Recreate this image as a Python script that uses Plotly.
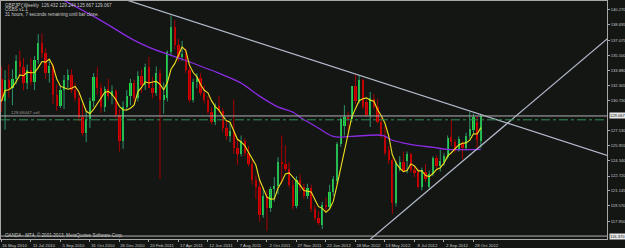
import plotly.graph_objects as go
import pandas as pd

# ---------------- data ----------------
date_labels = ["16 May 2010", "11 Jul 2010", "5 Sep 2010", "31 Oct 2010", "26 Dec 2010",
               "20 Feb 2011", "17 Apr 2011", "12 Jun 2011", "7 Aug 2011", "2 Oct 2011",
               "27 Nov 2011", "22 Jan 2012", "18 Mar 2012", "13 May 2012", "8 Jul 2012",
               "2 Sep 2012", "28 Oct 2012"]
date_label_bars = [0, 8, 16, 24, 32, 40, 48, 56, 64, 72, 80, 88, 96, 104, 112, 120, 128]

price_ticks = [140.270, 138.695, 137.075, 135.500, 133.880, 132.305, 130.730,
               127.530, 125.955, 124.340, 122.720, 121.145, 119.570, 117.950]

opens = [133.0, 130.6, 132.9, 132.0, 133.0, 134.9, 134.2, 132.5, 133.9, 132.7,
         135.0, 136.8, 135.7, 133.6, 134.3, 131.3, 130.1, 131.8, 132.9, 133.4,
         131.8, 131.0, 129.0, 127.3, 128.7, 130.6, 133.2, 132.0, 130.0, 131.9,
         131.2, 131.7, 129.2, 126.4, 130.0, 131.2, 132.6, 131.0, 133.3, 132.3,
         134.2, 132.0, 131.5, 133.6, 130.8, 131.0, 135.8, 138.5, 136.6, 135.3,
         135.6, 133.9, 130.8, 132.7, 133.1, 131.5, 130.8, 129.5, 128.4, 130.1,
         129.6, 127.8, 127.0, 127.5, 125.7, 125.0, 126.4, 125.1, 124.0, 122.3,
         121.6, 118.6, 120.6, 119.3, 121.3, 121.7, 124.2, 124.0, 123.5, 121.8,
         119.6, 122.3, 121.6, 120.6, 121.5, 119.2, 118.3, 117.5, 119.7, 119.4,
         121.0, 122.2, 126.1, 128.0, 129.0, 128.7, 132.2, 130.6, 132.9, 130.5,
         129.2, 130.9, 130.0, 128.4, 127.0, 125.5, 124.4, 119.9, 123.4, 124.2,
         124.3, 125.0, 123.4, 123.1, 121.6, 123.1, 121.6, 122.9, 124.6, 123.8,
         124.2, 124.7, 126.8, 126.3, 125.6, 126.2, 125.7, 126.9, 127.6, 128.4,
         126.432]
highs = [134.3, 133.9, 134.5, 134.0, 135.5, 136.0, 135.2, 134.5, 135.2, 135.4,
         137.7, 137.8, 136.2, 135.0, 134.6, 132.4, 132.3, 133.4, 134.0, 134.0,
         132.6, 131.5, 130.3, 129.6, 131.0, 133.6, 134.2, 132.5, 132.2, 133.0,
         132.3, 131.9, 129.8, 130.6, 131.8, 133.0, 132.9, 133.8, 134.0, 134.6,
         135.3, 133.2, 134.3, 134.0, 132.6, 136.0, 139.7, 139.2, 137.2, 137.0,
         136.2, 134.3, 133.0, 133.6, 133.6, 132.3, 131.2, 130.0, 130.4, 131.2,
         129.9, 128.6, 128.4, 130.8, 126.7, 127.0, 126.7, 125.9, 124.5, 122.8,
         122.2, 121.5, 121.2, 121.6, 122.6, 124.7, 127.0, 126.0, 124.2, 122.3,
         122.7, 122.9, 121.9, 121.9, 121.8, 119.6, 119.0, 120.0, 120.4, 121.8,
         122.7, 126.3, 128.9, 130.2, 129.5, 132.2, 133.4, 133.4, 133.0, 130.8,
         131.6, 131.4, 130.9, 129.0, 128.0, 125.9, 124.6, 124.3, 124.8, 125.3,
         125.3, 125.2, 123.8, 123.5, 123.6, 124.0, 123.3, 124.8, 124.9, 125.5,
         125.1, 127.0, 128.7, 126.6, 126.9, 126.4, 127.3, 129.5, 129.3, 129.0,
         129.244]
lows = [129.5, 127.6, 131.0, 130.2, 132.4, 133.3, 131.8, 131.9, 132.3, 131.8,
        134.6, 135.2, 133.0, 132.6, 130.3, 129.6, 129.9, 129.8, 132.0, 131.5,
        130.6, 128.5, 127.0, 126.3, 127.8, 130.0, 131.3, 129.4, 129.5, 130.8,
        130.3, 128.8, 125.3, 125.6, 129.6, 130.2, 130.5, 130.6, 131.5, 131.8,
        132.0, 130.9, 131.2, 122.4, 129.3, 130.6, 135.4, 136.1, 134.8, 134.9,
        133.6, 130.5, 130.5, 132.0, 131.2, 130.4, 129.3, 128.2, 128.1, 129.4,
        127.4, 126.5, 126.3, 125.1, 123.9, 124.8, 124.8, 123.7, 121.8, 120.3,
        117.9, 118.3, 116.9, 118.9, 120.0, 120.8, 121.9, 123.2, 121.5, 119.2,
        119.3, 121.1, 120.3, 120.3, 118.9, 118.0, 117.5, 117.1, 118.9, 119.2,
        120.6, 121.9, 125.8, 127.0, 127.5, 128.4, 130.3, 130.4, 129.8, 129.0,
        127.9, 129.8, 128.3, 126.7, 124.9, 124.0, 118.7, 119.5, 123.2, 123.1,
        123.0, 123.1, 122.6, 121.4, 121.2, 122.1, 121.4, 122.7, 123.5, 123.2,
        123.8, 124.5, 125.9, 125.2, 125.3, 124.5, 125.4, 126.6, 127.2, 125.7,
        125.667]
closes = [130.6, 132.9, 132.0, 133.0, 134.9, 134.2, 132.5, 133.9, 132.7, 135.0,
          136.8, 135.7, 133.6, 134.3, 131.3, 130.1, 131.8, 132.9, 133.4, 131.8,
          131.0, 129.0, 127.3, 128.7, 130.6, 133.2, 132.0, 130.0, 131.9, 131.2,
          131.7, 129.2, 126.4, 130.0, 131.2, 132.6, 131.0, 133.3, 132.3, 134.2,
          132.0, 131.5, 133.6, 130.8, 131.3, 135.8, 138.5, 136.6, 135.3, 135.6,
          133.9, 130.8, 132.7, 133.1, 131.5, 130.8, 129.5, 128.4, 130.1, 129.6,
          127.8, 127.0, 127.5, 125.7, 125.0, 126.4, 125.1, 124.0, 122.3, 121.6,
          118.6, 120.6, 119.3, 121.3, 121.7, 124.2, 124.0, 123.5, 121.8, 119.6,
          122.3, 121.6, 120.6, 121.5, 119.2, 118.3, 117.8, 119.7, 119.4, 121.0,
          122.4, 126.1, 128.7, 129.0, 128.7, 132.2, 130.6, 132.9, 130.0, 129.2,
          131.0, 130.0, 128.4, 126.9, 125.2, 124.4, 119.9, 124.1, 124.2, 123.3,
          125.0, 123.4, 123.0, 121.6, 123.4, 122.4, 122.9, 124.6, 123.8, 124.3,
          124.8, 126.7, 126.3, 125.6, 126.6, 125.7, 126.9, 127.7, 129.0, 126.5,
          129.067]

# long moving average (purple), read at sampled bars
purple_bars = [16.8, 26.7, 35.8, 40.4, 49.4, 58.6, 64.8, 70.2, 74.8, 79.2, 81.1,
               85.7, 90.0, 94.6, 103.6, 105.5, 110.9, 117.2, 121.0, 130.0]
purple_vals = [141.32, 139.22, 137.11, 136.27, 135.01, 133.64, 132.59, 131.11, 130.06,
               129.43, 128.9, 127.85, 126.9, 126.9, 127.0, 126.58, 126.06, 125.74,
               125.53, 125.53]

# trend lines (bar index, price)
trend_down_bars = [30, 166]
trend_down_vals = [141.82, 124.68]
trend_up_bars = [99, 166]
trend_up_vals = [115.69, 137.80]

bid_price = 129.067
order_price = 128.66
order_label = "128.66047 sell"
hline_price = 116.37

header_lines = ["GBPJPY,Weekly  126.432 129.244 125.667 129.067",
                "OSBS v1.1",
                "31 hours, 7 seconds remaining until bar close."]
copyright_text = "OANDA - MT4, \u00a9 2001-2013, MetaQuotes Software Corp."

# ---------------- styling ----------------
W, H = 625, 248
L, R, T, B = 1, 18, 1, 9
PW, PH = W - L - R, H - T - B
BG = "#141614"
AX = "#a8a8a8"
TXT = "#c8c8c8"
FONT = "Liberation Sans"
GREEN_BODY, RED_BODY = "#1fe23c", "#d80000"
GREEN_WICK, RED_WICK = "#2e9468", "#a80000"

def px_x(px):
    return (px - L) / PW

def px_y(py):
    return 1 - (py - T) / PH

n = len(closes)
bars = list(range(n))
up = [i for i in bars if closes[i] >= opens[i]]
dn = [i for i in bars if closes[i] < opens[i]]

def wick_xy(idx):
    xs, ys = [], []
    for i in idx:
        xs += [i, i, None]
        ys += [lows[i], highs[i], None]
    return xs, ys

fig = go.Figure()

for idx, col in ((up, GREEN_WICK), (dn, RED_WICK)):
    wx, wy = wick_xy(idx)
    fig.add_trace(go.Scatter(x=wx, y=wy, mode="lines", line=dict(color=col, width=1),
                             hoverinfo="skip", showlegend=False))
for idx, col in ((up, GREEN_BODY), (dn, RED_BODY)):
    fig.add_trace(go.Bar(x=idx,
                         y=[abs(closes[i] - opens[i]) for i in idx],
                         base=[min(opens[i], closes[i]) for i in idx],
                         width=0.62, marker=dict(color=col, line=dict(width=0)),
                         showlegend=False, hoverinfo="skip"))

fig.add_trace(go.Scatter(x=purple_bars, y=purple_vals, mode="lines",
                         line=dict(color="#8a2be2", width=1.3, shape="spline"),
                         showlegend=False, hoverinfo="skip"))
yellow = pd.Series(closes).rolling(5, min_periods=1).mean()
fig.add_trace(go.Scatter(x=bars, y=yellow, mode="lines",
                         line=dict(color="#f0e020", width=1.1),
                         showlegend=False, hoverinfo="skip"))

for bx, by in ((trend_down_bars, trend_down_vals), (trend_up_bars, trend_up_vals)):
    fig.add_trace(go.Scatter(x=bx, y=by, mode="lines", line=dict(color="#b4bccc", width=1.2),
                             showlegend=False, hoverinfo="skip"))

fig.add_hline(y=bid_price, line=dict(color="#b0b0b0", width=1))
fig.add_hline(y=order_price, line=dict(color="#2f8f55", width=1, dash="dashdot"))
fig.add_hline(y=hline_price, line=dict(color="#b0b0b0", width=1))

ann = []
for k, t in enumerate(header_lines):
    ann.append(dict(x=px_x(3), y=px_y(5 + 4.6 * k), xref="paper", yref="paper",
                    text=t, showarrow=False, xanchor="left", yanchor="middle",
                    font=dict(family=FONT, size=4.6, color=TXT)))
ann.append(dict(x=px_x(3), y=px_y(235), xref="paper", yref="paper",
                text=copyright_text, showarrow=False, xanchor="left", yanchor="middle",
                font=dict(family=FONT, size=4.6, color=TXT)))
ann.append(dict(x=2, y=bid_price, xref="x", yref="y", text=order_label, showarrow=False,
                xanchor="left", yanchor="bottom", yshift=-1,
                font=dict(family=FONT, size=4.4, color="#9a9a9a")))
for val, txt in ((bid_price, f"{bid_price:.3f}"), (hline_price, f"{hline_price:.3f}")):
    ann.append(dict(x=1, y=val, xref="paper", yref="y", text=txt, showarrow=False,
                    xanchor="left", yanchor="middle", xshift=2, bgcolor="#e8e8e8",
                    borderpad=0, font=dict(family=FONT, size=4.1, color="#101010")))

fig.update_layout(
    width=W, height=H, margin=dict(l=L, r=R, t=T, b=B, pad=0),
    paper_bgcolor=BG, plot_bgcolor=BG, template="none",
    barmode="overlay", bargap=0, showlegend=False,
    annotations=ann,
    xaxis=dict(range=[-0.1, 164.2], showgrid=False, zeroline=False, automargin=False,
               showline=True, mirror=True, linecolor=AX, linewidth=1,
               tickmode="array", tickvals=date_label_bars, ticktext=date_labels,
               ticks="outside", ticklen=2, tickcolor=AX, ticklabelshift=13,
               ticklabelstandoff=0,
               tickfont=dict(family=FONT, size=4.3, color=TXT)),
    yaxis=dict(range=[116.06, 141.22], side="right", showgrid=False, zeroline=False,
               automargin=False, showline=True, mirror=True, linecolor=AX, linewidth=1,
               tickmode="array", tickvals=price_ticks,
               ticktext=[f"{v:.3f}" for v in price_ticks],
               ticks="outside", ticklen=2, tickcolor=AX, ticklabelstandoff=0,
               tickfont=dict(family=FONT, size=4.1, color=TXT)),
)

fig.write_html("out.html")
